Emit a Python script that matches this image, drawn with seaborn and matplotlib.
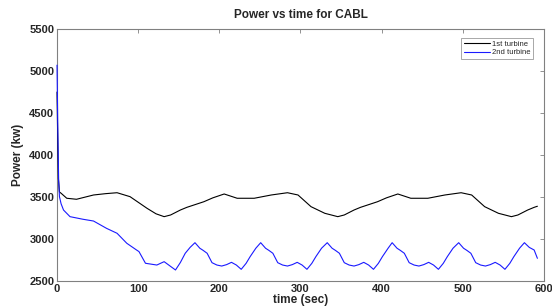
import numpy as np
import pandas as pd
import matplotlib
matplotlib.use("Agg")
import matplotlib.pyplot as plt
import seaborn as sns

# valores (1a turbina)
t_turb1 = [0, 1, 1.7, 3, 5, 12, 24, 45, 60, 74, 90, 111, 122, 132,
           140, 152, 160, 181, 192, 206, 222, 243, 264, 284, 297, 313, 330, 346,
           354, 366, 374, 395, 406, 420, 436, 457, 478, 498, 511, 527, 544, 560,
           568, 580, 588, 592]
p_turb1 = [4750, 4100, 3720, 3560, 3545, 3485, 3473, 3524, 3540, 3551, 3504,
           3365, 3300, 3266,
           3286, 3345, 3377, 3444, 3490, 3536, 3485, 3485, 3524, 3551, 3524,
           3385, 3306, 3266,
           3286, 3345, 3377, 3444, 3490, 3536, 3485, 3485, 3524, 3551, 3524,
           3385, 3306, 3266,
           3286, 3345, 3377, 3390]

# valores (2a turbina)
t_turb2 = [0, 1, 2, 3, 5, 8, 16, 32, 45, 61, 74, 86, 98, 101, 109,
           123, 132, 146, 152, 158, 164,
           170, 176, 180, 185, 191, 197, 203, 209, 215, 221, 227, 233, 238, 245,
           251, 257, 261, 266, 272, 278, 284, 290, 296, 302, 308, 314, 319, 326,
           333, 339, 343, 348, 354, 360, 366, 372, 378, 384, 390, 396, 401, 408,
           413, 419, 423, 428, 434, 440, 446, 452, 458, 464, 470, 476, 481, 488,
           495, 501, 505, 510, 516, 522, 528, 534, 540, 546, 552, 558, 563, 570,
           576, 582, 588, 592]
p_turb2 = [5070, 4300, 3700, 3504, 3420, 3345, 3266, 3235, 3214, 3127, 3068,
           2949, 2869, 2850, 2711,
           2690, 2730, 2631, 2720, 2830, 2900,
           2956, 2890, 2865, 2830, 2718, 2690, 2678, 2695, 2722, 2690, 2639, 2710, 2790, 2890,
           2956, 2890, 2865, 2830, 2718, 2690, 2678, 2695, 2722, 2690, 2639, 2710, 2790, 2890,
           2956, 2890, 2865, 2830, 2718, 2690, 2678, 2695, 2722, 2690, 2639, 2710, 2790, 2890,
           2956, 2890, 2865, 2830, 2718, 2690, 2678, 2695, 2722, 2690, 2639, 2710, 2790, 2890,
           2956, 2890, 2865, 2830, 2718, 2690, 2678, 2695, 2722, 2690, 2639, 2710, 2790, 2890,
           2956, 2900, 2869, 2770]

sns.set_style("white")
plt.rcParams['font.family'] = ['Liberation Sans', 'DejaVu Sans']

df1 = pd.DataFrame({'t': t_turb1, 'p': p_turb1})
df2 = pd.DataFrame({'t': t_turb2, 'p': p_turb2})

fig = plt.figure(figsize=(5.52, 3.08), dpi=100)
ax = fig.add_axes([0.1033, 0.0877, 0.882, 0.818])

sns.lineplot(data=df1, x='t', y='p', color='black', linewidth=0.8,
             label='1st turbine', ax=ax, zorder=3, clip_on=False)
sns.lineplot(data=df2, x='t', y='p', color='#1a1aff', linewidth=0.8,
             label='2nd turbine', ax=ax, zorder=3, clip_on=False)

ax.set_xlim(0, 600)
ax.set_ylim(2500, 5500)
ax.set_xticks(np.arange(0, 601, 100))
ax.set_yticks(np.arange(2500, 5501, 500))

for s in ax.spines.values():
    s.set_color('#808080')
    s.set_linewidth(0.8)
ax.tick_params(direction='in', length=3, width=0.6, color='#808080',
               top=True, right=True, labelsize=8, pad=2)
for lbl in ax.get_xticklabels() + ax.get_yticklabels():
    lbl.set_fontweight('bold')

ax.set_title('Power vs time for CABL', fontsize=8.5, fontweight='bold', pad=8)
ax.set_xlabel('time (sec)', fontsize=8.5, fontweight='bold', labelpad=0)
ax.set_ylabel('Power (kw)', fontsize=8.5, fontweight='bold', labelpad=4)

leg = ax.legend(loc='upper right', fontsize=5.5, frameon=True, fancybox=False,
                handlelength=3.5, handletextpad=0.2, borderpad=0.3,
                labelspacing=0.2, bbox_to_anchor=(0.985, 0.98))
leg.get_frame().set_edgecolor('#808080')
leg.get_frame().set_linewidth(0.6)

fig.savefig('out.png', dpi=100)
